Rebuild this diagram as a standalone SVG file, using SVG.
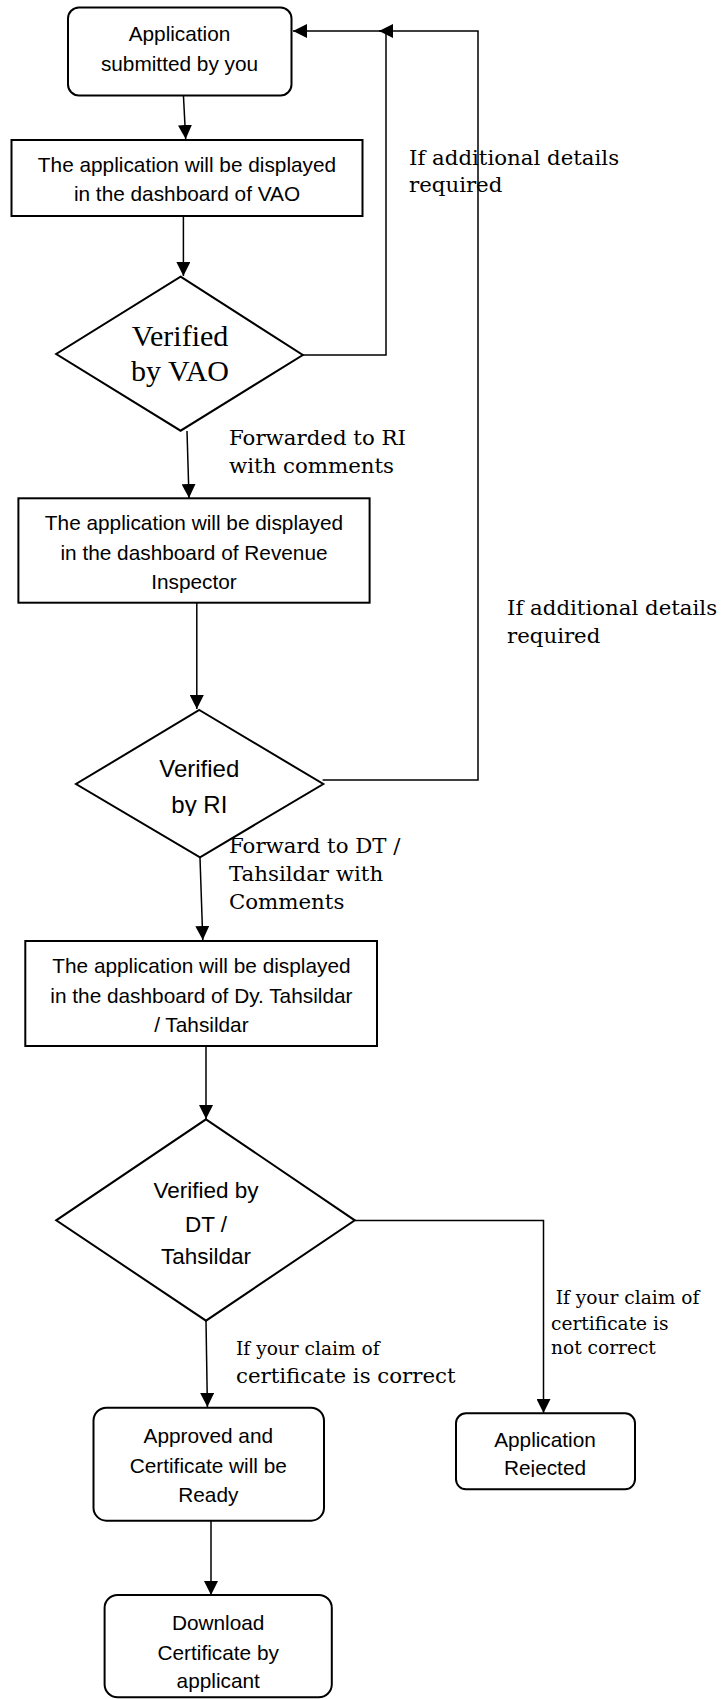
<svg xmlns="http://www.w3.org/2000/svg" width="724" height="1699" viewBox="0 0 724 1699">
<style>
.box{fill:#fff;stroke:#000;stroke-width:2}
.con{fill:none;stroke:#000;stroke-width:1.5}
.t{font-family:"Liberation Sans",Arial,sans-serif;font-size:20.8px;fill:#000;text-anchor:middle}
.ts{font-family:"Liberation Serif","Times New Roman",serif;font-size:30px;fill:#000;text-anchor:middle}
.lb{font-family:"DejaVu Serif",serif;font-size:21.3px;fill:#000}
.lbs{font-family:"DejaVu Serif",serif;font-size:18.6px;fill:#000}
</style>
<defs>
<marker id="ah" markerUnits="userSpaceOnUse" markerWidth="14" markerHeight="14" refX="14" refY="7" orient="auto">
<path d="M0,0 L14,7 L0,14 z" fill="#000"/>
</marker>
<clipPath id="clipRI"><rect x="0" y="0" width="724" height="816"/></clipPath>
<clipPath id="clipRej"><rect x="0" y="0" width="724" height="1477"/></clipPath>
</defs>
<rect width="724" height="1699" fill="#fff"/>

<g id="connectors">
<path class="con" d="M183.4,95 L185.7,139" marker-end="url(#ah)"/>
<path class="con" d="M183.4,216 L183.4,276" marker-end="url(#ah)"/>
<path class="con" d="M302.8,355 L386,355 L386,31 L293,31" marker-end="url(#ah)"/>
<path class="con" d="M187,431 L189,498" marker-end="url(#ah)"/>
<path class="con" d="M196.8,603 L196.8,709" marker-end="url(#ah)"/>
<path class="con" d="M322.6,780 L478,780 L478,31 L379,31" marker-end="url(#ah)"/>
<path class="con" d="M200,858 L202.8,940" marker-end="url(#ah)"/>
<path class="con" d="M206,1046 L206,1119" marker-end="url(#ah)"/>
<path class="con" d="M206,1321 L207.4,1407" marker-end="url(#ah)"/>
<path class="con" d="M354.8,1220.5 L543.5,1220.5 L543.5,1413" marker-end="url(#ah)"/>
<path class="con" d="M211,1521 L211,1595" marker-end="url(#ah)"/>
</g>

<g id="n-submitted">
<rect class="box" x="68" y="7.5" width="223.5" height="88" rx="11"/>
<text class="t" x="179.5" y="41">Application</text>
<text class="t" x="179.5" y="70.7">submitted by you</text>
</g>

<g id="n-vao-box">
<rect class="box" x="11.5" y="140" width="351" height="76"/>
<text class="t" x="187" y="172.3">The application will be displayed</text>
<text class="t" x="187" y="201">in the dashboard of VAO</text>
</g>

<g id="n-vao-dec">
<polygon class="box" points="180.6,276.7 302.8,355 180.6,430.7 56.2,354"/>
<text class="ts" x="180" y="345.7">Verified</text>
<text class="ts" x="180" y="380.5">by VAO</text>
</g>

<g id="n-ri-box">
<rect class="box" x="18.4" y="498.3" width="351.2" height="104.4"/>
<text class="t" x="194" y="530">The application will be displayed</text>
<text class="t" x="194" y="560">in the dashboard of Revenue</text>
<text class="t" x="194" y="589.3">Inspector</text>
</g>

<g id="n-ri-dec">
<polygon class="box" points="199.3,710 323.3,784 200,857.3 76,784"/>
<g clip-path="url(#clipRI)">
<text class="t" style="font-size:24px" x="199.3" y="777.3">Verified</text>
<text class="t" style="font-size:24px" x="199.3" y="813.3">by RI</text>
</g>
</g>

<g id="n-dt-box">
<rect class="box" x="25.3" y="941" width="351.7" height="105"/>
<text class="t" x="201.4" y="973.3">The application will be displayed</text>
<text class="t" x="201.4" y="1002.7">in the dashboard of Dy. Tahsildar</text>
<text class="t" x="201.4" y="1032.3">/ Tahsildar</text>
</g>

<g id="n-dt-dec">
<polygon class="box" points="206,1119.3 354.8,1220.3 206,1320.7 56.2,1220.3"/>
<text class="t" style="font-size:22.5px" x="206" y="1198.3">Verified by</text>
<text class="t" style="font-size:22.5px" x="206" y="1231.7">DT /</text>
<text class="t" style="font-size:22.5px" x="206" y="1264">Tahsildar</text>
</g>

<g id="n-approved">
<rect class="box" x="93.5" y="1407.7" width="230.5" height="113" rx="13"/>
<text class="t" x="208.3" y="1442.7">Approved and</text>
<text class="t" x="208.3" y="1472.7">Certificate will be</text>
<text class="t" x="208.3" y="1501.7">Ready</text>
</g>

<g id="n-rejected">
<rect class="box" x="456" y="1413.3" width="179" height="76" rx="10"/>
<g clip-path="url(#clipRej)">
<text class="t" x="545" y="1446.7">Application</text>
<text class="t" x="545" y="1475">Rejected</text>
</g>
</g>

<g id="n-download">
<rect class="box" x="104.6" y="1595" width="227.2" height="102.3" rx="13"/>
<text class="t" x="218.2" y="1630">Download</text>
<text class="t" x="218.2" y="1660">Certificate by</text>
<text class="t" x="218.2" y="1688">applicant</text>
</g>

<g id="labels">
<text class="lb" x="409" y="165">If additional details</text>
<text class="lb" x="409" y="192">required</text>
<text class="lb" x="229" y="445">Forwarded to RI</text>
<text class="lb" x="229" y="472.5">with comments</text>
<text class="lb" x="507" y="615">If additional details</text>
<text class="lb" x="507" y="642.5">required</text>
<text class="lb" x="229" y="853.3">Forward to DT /</text>
<text class="lb" x="229" y="880.7">Tahsildar with</text>
<text class="lb" x="229" y="909.3">Comments</text>
<text class="lbs" x="236" y="1355">If your claim of</text>
<text class="lb" x="236" y="1382.7">certificate is correct</text>
<text class="lbs" x="555.7" y="1304">If your claim of</text>
<text class="lbs" x="551" y="1330">certificate is</text>
<text class="lbs" x="551" y="1354">not correct</text>
</g>
</svg>
